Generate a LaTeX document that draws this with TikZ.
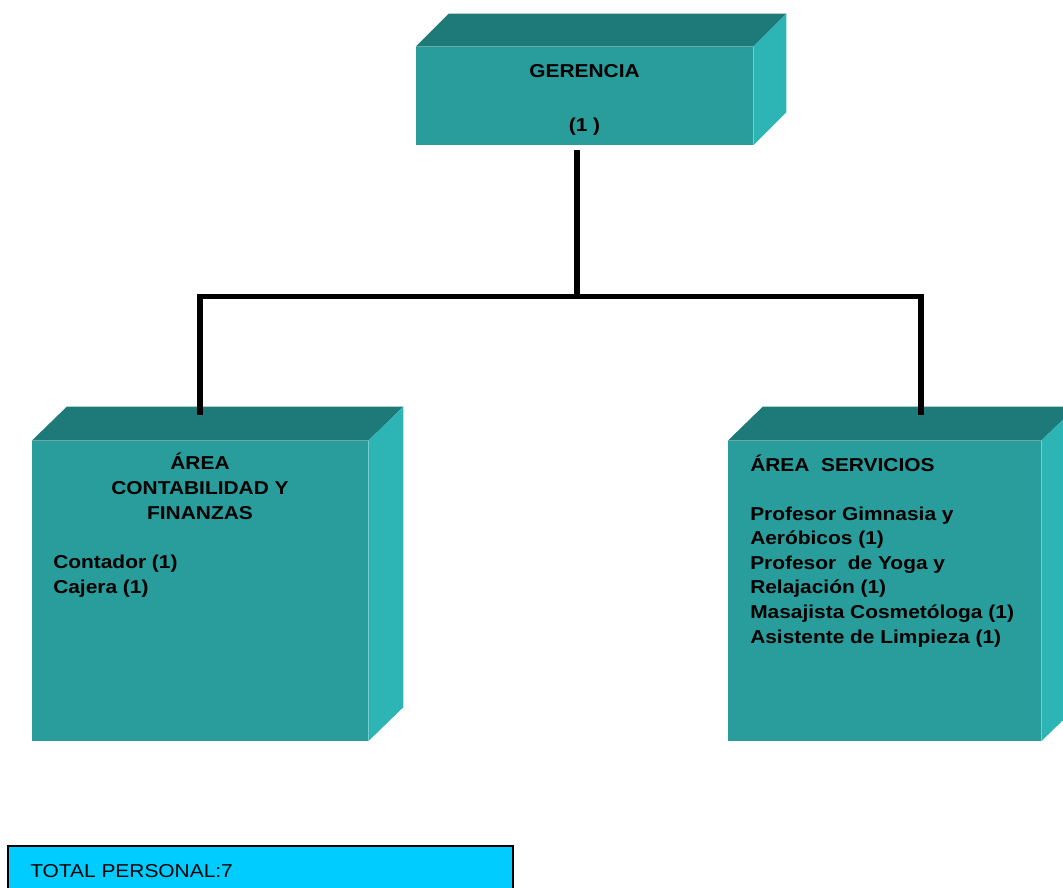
\documentclass[tikz,border=0pt]{standalone}
\usepackage{fontspec}
\setmainfont{Liberation Sans}[FakeStretch=1.12]
\usepackage{tikz}
\usetikzlibrary{calc}
\definecolor{cubeFront}{HTML}{289D9C}
\definecolor{cubeTop}{HTML}{1E7A78}
\definecolor{cubeSide}{HTML}{2DB5B5}
\definecolor{totalCyan}{HTML}{00CCFF}
\tikzset{
  cubefront/.style 2 args={rectangle, fill=cubeFront, draw=none, inner sep=0pt, minimum width=#1, minimum height=#2},
  cubetop/.style={fill=cubeTop},
  cubeside/.style={fill=cubeSide},
  cubetext/.style={font=\fontsize{14}{18.4}\selectfont\bfseries, inner sep=0pt},
  orgline/.style={draw=black, line width=3.8pt},
  totalbox/.style={rectangle, fill=totalCyan, draw=black, line width=1.1pt, inner sep=0pt, minimum width=378.75pt, minimum height=34.5pt},
  totaltext/.style={font=\fontsize{14}{18.4}\selectfont, inner sep=0pt},
}
% top and side faces of a cube drawn behind its front node
\newcommand{\cubefaces}[3]{%
  \fill[cubetop] (#1.north west) -- ++(#2,-#3) -- ($(#1.north east)+(#2,-#3)$) -- (#1.north east) -- cycle;
  \fill[cubeside] (#1.north east) -- ++(#2,-#3) -- ($(#1.south east)+(#2,-#3)$) -- (#1.south east) -- cycle;
}

\begin{document}
\begin{tikzpicture}[x=0.75pt,y=-0.75pt]
  \useasboundingbox (0,0) rectangle (1063,888);

  % Gerencia
  \node[cubefront={252.75pt}{73.5pt}] (ger) at (584.5,96) {};
  \cubefaces{ger}{33}{33}
  \node[cubetext, anchor=base] (gertitle) at (584.5,78) {GERENCIA};
  \node[cubetext, anchor=base] (gercount) at (584.5,132) {(1 )};

  % Area contabilidad y finanzas (base = last line)
  \node[cubefront={252pt}{225pt}] (cont) at (200,591) {};
  \cubefaces{cont}{35}{34}
  \node[cubetext, align=center, anchor=base] (conthead) at (200,519) {ÁREA\\CONTABILIDAD Y\\FINANZAS};
  \node[cubetext, align=left, anchor=base west] (contlist) at (53,593) {Contador (1)\\Cajera (1)};

  % Area servicios
  \node[cubefront={234.75pt}{225pt}] (serv) at (884.5,591) {};
  \cubefaces{serv}{35}{34}
  \node[cubetext, anchor=base west] (servhead) at (750,471) {ÁREA~~SERVICIOS};
  \node[cubetext, align=left, anchor=base west] (servlist) at (750,643) {Profesor Gimnasia y\\Aeróbicos (1)\\Profesor~~de Yoga y\\Relajación (1)\\Masajista Cosmetóloga (1)\\Asistente de Limpieza (1)};

  % Connectors
  \coordinate (bus) at ($(ger.south)+(-7.5,151)$);
  \draw[orgline] ($(ger.south)+(-7.5,5)$) -- (bus);
  \draw[orgline] ($(cont.north)+(0,-26)$) |- (bus) -| ($(serv.north)+(36.5,-26)$);

  % Total
  \node[totalbox] (total) at (260.5,869) {};
  \node[totaltext, anchor=base west] (totallabel) at (30,877) {TOTAL PERSONAL:7};
\end{tikzpicture}
\end{document}
